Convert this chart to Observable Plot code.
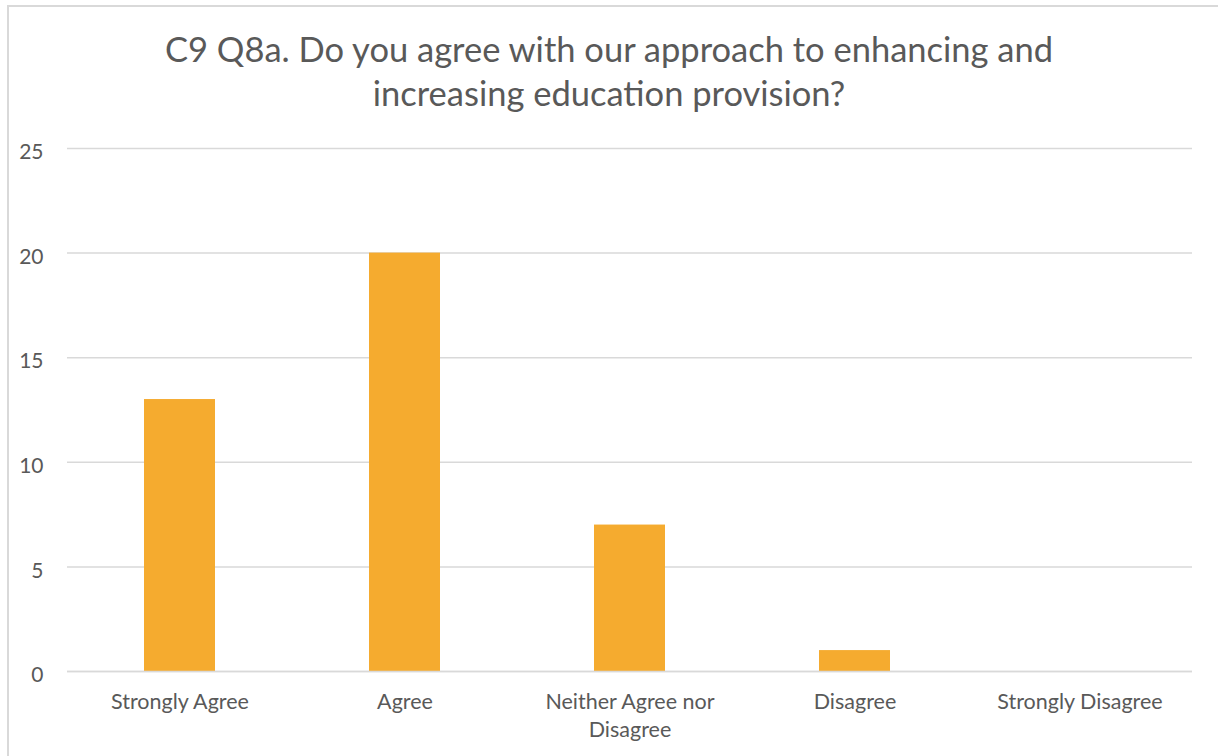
<!DOCTYPE html>
<html>
<head>
<meta charset="utf-8">
<script src="https://cdn.jsdelivr.net/npm/d3@7"></script>
<script src="https://cdn.jsdelivr.net/npm/@observablehq/plot@0.6"></script>
<style>
  html, body { margin: 0; padding: 0; background: #fff; }
  #wrap { position: relative; width: 1218px; height: 756px; overflow: hidden; font-family: Lato, "Open Sans", sans-serif; }
  #border { position: absolute; left: 7px; top: 5px; width: 1230px; height: 780px; border: 2px solid #d9d9d9; box-sizing: border-box; }
  #title { position: absolute; left: 0; top: 0; width: 1218px; height: 125px; text-align: center; color: #595959; font-size: 34.5px; line-height: 44px; padding-top: 27px; box-sizing: border-box; }
  #chart { position: absolute; left: 0; top: 125px; }
</style>
</head>
<body>
<div id="wrap">
  <div id="border"></div>
  <div id="title">C9 Q8a. Do you agree with our approach to enhancing and<br>increasing education provision?</div>
  <div id="chart"></div>
</div>
<script>
const categories = ["Strongly Agree", "Agree", "Neither Agree nor Disagree", "Disagree", "Strongly Disagree"];
const counts = [13, 20, 7, 1, 0];
const yTicks = [0, 5, 10, 15, 20, 25];
const tickLabels = {"Neither Agree nor Disagree": "Neither Agree nor\nDisagree"};

const data = categories.map((c, i) => ({category: c, count: counts[i]}));

const plot = Plot.plot({
  width: 1218,
  height: 631,
  marginTop: 23,
  marginBottom: 85,
  marginLeft: 67,
  marginRight: 26,
  style: {fontFamily: "Lato, 'Open Sans', sans-serif", fontSize: "22px", color: "#595959", background: "transparent"},
  x: {domain: categories, paddingInner: 0.685, paddingOuter: 0.3425, label: null},
  y: {domain: [0, 25], label: null},
  marks: [
    Plot.gridY(yTicks, {stroke: "#d9d9d9", strokeOpacity: 1, strokeWidth: 1.5}),
    Plot.barY(data, {x: "category", y: "count", fill: "#F5AB2F"}),
    Plot.ruleY([0], {stroke: "#d9d9d9", strokeWidth: 1.5}),
    Plot.axisY(yTicks, {tickSize: 0, tickPadding: 24, fill: "#595959", fontSize: 21, dy: 4}),
    Plot.axisX({tickSize: 0, tickPadding: 17, fill: "#595959", fontSize: 21.5, lineHeight: 1.33, tickFormat: d => tickLabels[d] ?? d})
  ]
});
document.getElementById("chart").appendChild(plot);
</script>
</body>
</html>
